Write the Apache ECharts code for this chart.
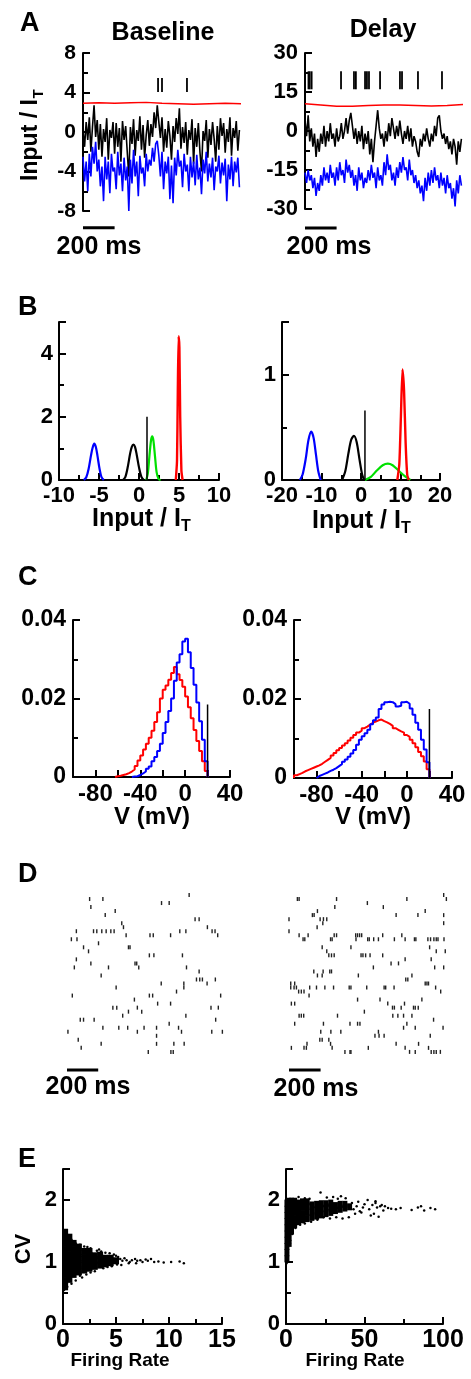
<!DOCTYPE html>
<html><head><meta charset="utf-8">
<script src="https://cdn.jsdelivr.net/npm/echarts/dist/echarts.min.js"></script>
<style>html,body{margin:0;padding:0;background:#fff}#c{width:471px;height:1379px}</style>
</head><body><div id="c"></div>
<script>
const FONT = '"Liberation Sans", Arial, sans-serif';

// ---------- Panel A: input traces (sampled every 10 ms) ----------
const aStepMs = 10;
const aLeftBlack = [0.2,-1.5,1.0,-0.8,1.5,-2.0,0.5,2.7,-0.5,1.2,
-1.8,0.8,-2.5,0.3,-1.0,1.4,-2.8,0.2,-0.6,1.0,
-2.2,0.9,-1.5,0.4,-3.0,1.1,-0.8,0.6,-2.0,-4.5,
0.5,-1.2,1.3,-2.4,0.2,-0.9,1.6,-1.8,0.7,-2.6,
-0.3,1.2,-1.4,0.8,-0.5,2.0,0.4,2.7,1.0,-0.6,
1.5,-2.0,0.3,-1.6,1.1,-0.4,-2.8,0.6,-1.0,1.4,
-0.2,2.4,-1.7,0.5,-1.1,1.0,-2.3,0.2,-0.8,1.3,
-3.2,0.4,-1.5,0.9,-2.0,-4.0,0.1,-0.9,1.2,-2.6,
0.3,-1.3,1.0,-0.7,-3.0,0.6,-1.8,1.4,-0.4,0.9,
-2.1,0.3,-1.0,1.5,-2.4,0.4,-0.6,1.1,-1.9,0.2];
const aLeftBlue = [-2.5,-5.0,-3.0,-6.0,-2.2,-4.5,-1.5,-3.2,-1.0,-4.0,
-2.8,-5.5,-3.5,-7.0,-2.5,-4.8,-3.0,-6.2,-2.2,-4.0,
-3.6,-5.8,-2.0,-4.4,-3.2,-6.0,-2.6,-4.9,-3.5,-8.0,
-2.8,-5.2,-1.8,-4.5,-3.0,-6.5,-2.4,-4.2,-3.6,-5.5,
-2.2,-4.0,-2.8,-3.4,-1.6,-3.0,-1.2,-0.9,-2.4,-4.5,
-2.0,-5.8,-3.0,-4.2,-2.5,-6.8,-3.4,-7.2,-2.6,-4.4,
-1.8,-3.5,-2.9,-5.6,-2.2,-4.0,-3.3,-6.0,-2.5,-4.6,
-3.0,-5.4,-2.3,-4.8,-3.6,-6.3,-2.8,-4.2,-2.0,-5.0,
-3.2,-4.6,-2.6,-5.9,-3.5,-4.0,-2.4,-5.2,-3.1,-4.4,
-2.7,-7.0,-3.3,-4.8,-2.5,-5.5,-3.0,-4.1,-2.6,-5.6];
const aRedTimes = [0,100,200,300,400,500,600,700,800,900,1000];
const aLeftRed = [2.9,2.95,2.9,2.95,3.0,2.9,2.85,2.8,2.85,2.9,2.85];
const aLeftSpikes = [475,500,658];
const aRightBlack = [4,-2,6,-4,1,-6,-1,-10,-3,-8,
-1,-5,2,-6,0,-4,3,-3,-1,-6,
1,-4,-2,3,-3,0,5,-1,4,7,
2,-3,1,-5,0,-4,2,-7,-1,-5,
0,-9,-3,-12,-4,2,8,1,-3,-1,
-6,0,-4,3,-2,5,1,-3,2,-2,
4,-1,-5,0,-3,2,-4,1,-6,-2,
-4,-8,-10,-3,-6,-1,-4,1,-3,-6,
-1,-4,2,-2,5,6,0,-3,-1,-5,
-2,-7,-4,-9,-3,-6,-13,-4,-8,-3];
const aRightBlue = [-16,-20,-15,-19,-17,-22,-18,-25,-20,-23,
-17,-21,-14,-19,-16,-20,-13,-18,-16,-21,
-14,-19,-12,-17,-15,-20,-11,-16,-13,-18,
-15,-21,-17,-23,-14,-19,-16,-22,-18,-20,
-15,-19,-13,-18,-16,-22,-14,-19,-17,-21,
-12,-17,-9,-15,-13,-19,-16,-21,-14,-18,
-12,-16,-10,-15,-14,-19,-11,-17,-15,-20,
-17,-22,-19,-24,-21,-27,-18,-23,-16,-21,
-15,-20,-14,-19,-17,-22,-16,-21,-18,-24,
-17,-22,-20,-26,-22,-29,-19,-24,-17,-21];
const aRightRed = [10.5,10,9.5,9.5,9.8,10,10,9.8,9.6,9.8,10.2];
const aRightSpikes = [22,30,42,228,310,322,380,392,405,475,601,614,715,867];
const aLeftSpikeLevel = 4.75, aRightSpikeLevel = 19.5;
const scaleBarMs = 200;

// ---------- Panel B: input distributions ----------
const bLeftBlue  = [[-6.9,0],[-6.6,0.08],[-6.3,0.35],[-6.0,0.78],[-5.8,1.02],[-5.6,1.15],[-5.4,1.05],[-5.2,0.78],[-4.95,0.38],[-4.7,0.1],[-4.4,0]];
const bLeftBlack = [[-2.0,0],[-1.7,0.1],[-1.4,0.42],[-1.1,0.85],[-0.9,1.05],[-0.7,1.12],[-0.5,1.05],[-0.3,0.82],[0,0.4],[0.3,0.1],[0.6,0]];
const bLeftGreen = [[0.9,0],[1.1,0.2],[1.3,0.75],[1.5,1.25],[1.65,1.38],[1.8,1.25],[2.0,0.75],[2.2,0.25],[2.45,0.03],[2.7,0]];
const bLeftRed   = [[4.6,0],[4.75,0.6],[4.85,2.8],[4.95,4.55],[5.05,4.2],[5.15,2.0],[5.3,0.3],[5.45,0]];
const bLeftThresh = [[1,0],[1,2.0]];
const bRightBlue  = [[-15.5,0],[-14.8,0.05],[-14.0,0.2],[-13.3,0.38],[-12.6,0.46],[-12.0,0.4],[-11.4,0.24],[-10.8,0.08],[-10.2,0]];
const bRightBlack = [[-4.8,0],[-4.0,0.08],[-3.2,0.25],[-2.5,0.38],[-1.8,0.42],[-1.1,0.36],[-0.4,0.2],[0.3,0.05],[0.8,0]];
const bRightGreen = [[1,0],[2.5,0.03],[4,0.09],[5.5,0.14],[6.8,0.155],[8,0.14],[9.5,0.09],[11,0.04],[12.5,0]];
const bRightRed   = [[9.2,0],[9.7,0.15],[10.1,0.6],[10.5,1.05],[10.9,0.85],[11.3,0.35],[11.7,0.05],[12.1,0]];
const bRightThresh = [[1,0],[1,0.66]];

// ---------- Panel C: voltage histograms (2.5 mV bins) ----------
const cBin = 2.5;
const cLeftRedStart = -62.5;
const cLeftRed = [0.0002,0.0003,0.0005,0.0007,0.0010,0.0014,0.0019,0.0028,0.0042,0.0055,0.0070,0.0085,0.0100,0.0118,0.0140,0.0165,0.0200,0.0222,0.0233,0.0248,0.0265,0.0280,0.0262,0.0247,0.0230,0.0205,0.0178,0.0150,0.0120,0.0092,0.0066,0.0040,0.0015];
const cLeftBlueStart = -47.5;
const cLeftBlue = [0.0001,0.0002,0.0005,0.0009,0.0014,0.0021,0.0027,0.0040,0.0051,0.0066,0.0085,0.0112,0.0140,0.0168,0.0200,0.0245,0.0292,0.0313,0.0345,0.0352,0.0318,0.0278,0.0235,0.0190,0.0142,0.0095,0.0040];
const cRightRedStart = -100;
const cRightRed = [0.0007,0.0010,0.0013,0.0017,0.0020,0.0023,0.0026,0.0029,0.0032,0.0036,0.0041,0.0046,0.0051,0.0057,0.0063,0.0070,0.0076,0.0082,0.0088,0.0095,0.0102,0.0109,0.0115,0.0120,0.0126,0.0130,0.0135,0.0140,0.0143,0.0146,0.0148,0.0144,0.0141,0.0137,0.0132,0.0126,0.0122,0.0118,0.0115,0.0109,0.0104,0.0097,0.0088,0.0078,0.0066,0.0055,0.0042,0.0022];
const cRightBlueStart = -80;
const cRightBlue = [0.0005,0.0008,0.0011,0.0014,0.0018,0.0021,0.0025,0.0030,0.0035,0.0041,0.0047,0.0054,0.0062,0.0071,0.0084,0.0097,0.0106,0.0113,0.0122,0.0136,0.0146,0.0153,0.0175,0.0186,0.0192,0.0193,0.0192,0.0187,0.0181,0.0183,0.0192,0.0193,0.0188,0.0176,0.0160,0.0140,0.0122,0.0097,0.0072,0.0040];
const cLeftThresh = [[20,0],[20,0.0185]];
const cRightThresh = [[20,0],[20,0.0175]];

// ---------- Panel D: rasters [time ms, neuron row] ----------
const dLeft = [[783,0],[145,1],[230,1],[606,2],[655,2],[153,3],[309,4],[245,5],[821,6],[847,6],[351,7],[362,8],[60,9],[170,9],[191,9],[223,9],[251,9],[281,9],[302,9],[723,9],[762,9],[900,8],[930,9],[949,9],[966,10],[532,10],[553,10],[664,10],[379,10],[28,11],[64,11],[202,12],[106,13],[394,13],[404,13],[138,14],[528,15],[557,15],[740,15],[60,16],[153,17],[436,17],[447,17],[460,18],[47,18],[266,18],[766,18],[847,19],[219,20],[830,21],[851,21],[868,21],[898,22],[951,21],[749,22],[749,23],[604,22],[315,23],[702,24],[549,25],[528,25],[34,25],[985,25],[432,26],[581,27],[664,27],[294,28],[319,28],[394,29],[451,28],[479,29],[923,28],[970,28],[357,30],[762,30],[85,31],[106,31],[174,31],[953,31],[655,32],[230,33],[332,33],[389,33],[494,33],[715,33],[574,33],[451,34],[734,34],[928,34],[996,34],[6,34],[574,35],[72,36],[219,37],[574,37],[685,37],[751,37],[91,38],[521,39],[666,39],[681,39]];
const dRight = [[53,1],[64,1],[301,1],[746,1],[979,0],[996,1],[496,2],[290,3],[597,3],[0,6],[148,5],[159,5],[180,4],[197,6],[218,6],[239,6],[678,5],[816,5],[862,4],[979,5],[979,7],[178,8],[214,7],[0,9],[64,10],[121,10],[286,10],[301,10],[422,10],[434,10],[447,10],[460,10],[593,10],[714,10],[89,11],[100,11],[263,11],[273,11],[424,11],[498,11],[508,11],[536,11],[566,11],[667,11],[735,11],[794,11],[803,11],[879,11],[896,11],[917,11],[932,11],[943,11],[981,11],[210,13],[392,13],[890,13],[932,14],[989,14],[239,14],[252,15],[269,15],[286,15],[456,15],[468,15],[485,15],[513,15],[593,15],[534,18],[646,17],[693,17],[735,16],[900,16],[922,18],[979,18],[157,19],[180,20],[210,20],[216,19],[258,19],[269,19],[439,20],[739,21],[752,21],[778,20],[11,22],[36,22],[11,23],[32,23],[47,23],[61,24],[78,24],[95,24],[131,23],[127,25],[174,23],[227,23],[282,23],[381,23],[392,23],[492,23],[602,23],[612,23],[665,23],[862,22],[873,22],[883,22],[928,23],[960,24],[434,26],[576,26],[15,27],[36,27],[625,27],[655,28],[667,28],[710,28],[731,27],[788,28],[799,28],[818,28],[841,26],[64,30],[78,30],[93,30],[307,30],[477,29],[657,30],[689,30],[725,30],[778,30],[915,31],[36,32],[218,32],[386,32],[434,32],[449,32],[725,33],[746,32],[799,33],[975,33],[201,34],[265,34],[328,34],[566,34],[544,35],[570,35],[602,35],[894,35],[195,36],[210,36],[252,36],[263,37],[114,37],[678,37],[820,37],[15,38],[95,38],[110,38],[273,38],[354,39],[386,39],[392,39],[502,38],[735,38],[763,39],[799,39],[883,38],[900,39],[917,39],[932,39],[958,39]];
const dScaleRow = 43.5;

// ---------- Panel E: CV vs firing rate ----------
const eLeftCore = [[0.2,0.6],[0.2,0.7],[0.2,0.8],[0.2,0.9],[0.2,1.0],[0.2,1.1],[0.2,1.2],[0.2,1.3],[0.2,1.4],[0.2,1.48],
[0.6,0.72],[0.6,0.82],[0.6,0.92],[0.6,1.02],[0.6,1.12],[0.6,1.22],[0.6,1.32],[0.6,1.4],
[1.0,0.8],[1.0,0.9],[1.0,1.0],[1.0,1.1],[1.0,1.2],[1.0,1.3],
[1.5,0.84],[1.5,0.94],[1.5,1.04],[1.5,1.14],[1.5,1.24],
[2.0,0.87],[2.0,0.97],[2.0,1.07],[2.0,1.17],
[2.5,0.9],[2.5,1.0],[2.5,1.1],[2.5,1.17],
[3.0,0.93],[3.0,1.02],[3.0,1.1],
[3.5,0.95],[3.5,1.04],[3.5,1.11],
[4.0,0.97],[4.0,1.06],[4.5,0.99],[4.5,1.06],[5.0,1.02]];
const eLeftSparse = [[0.1,0.55],[0.05,1.5],[0.3,1.48],[0.5,1.42],[0.8,1.35],[1.2,1.3],[1.6,1.28],[2.0,1.25],[2.3,1.24],[2.6,1.22],[3.2,1.18],[3.6,1.17],[4.0,1.15],[4.4,1.14],[4.8,1.12],[5.0,1.1],[5.2,1.08],[5.4,1.05],[5.6,1.02],[5.8,1.06],[6.0,1.03],[6.2,0.98],[6.5,1.03],[6.8,1.05],[7.0,1.02],[7.3,1.03],[7.5,1.0],[7.8,1.04],[8.0,1.02],[8.3,1.05],[8.6,1.0],[9.0,1.01],[9.5,0.99],[10.2,1.0],[11.0,1.01],[11.4,0.98],[4.2,0.92],[3.8,0.9],[3.0,0.85],[2.6,0.83],[2.2,0.8],[1.6,0.78],[1.2,0.7],[0.8,0.65],[5.1,0.96],[5.5,0.95],[4.6,0.93],[2.8,1.0],[1.8,0.75],[6.3,1.0],[6.9,0.98],[3.4,1.2],[0.4,0.6]];
const eRightCore = [[0.6,1.05],[0.6,1.15],[0.6,1.25],[0.6,1.35],[0.6,1.45],[0.6,1.55],[0.6,1.65],[0.6,1.75],[0.6,1.85],[0.6,1.95],
[2,1.3],[2,1.4],[2,1.5],[2,1.6],[2,1.7],[2,1.8],[2,1.9],[2,1.98],
[3.5,1.5],[3.5,1.6],[3.5,1.7],[3.5,1.8],[3.5,1.9],[3.5,1.98],
[5.5,1.6],[5.5,1.7],[5.5,1.8],[5.5,1.9],[5.5,1.98],
[8,1.65],[8,1.75],[8,1.85],[8,1.95],
[10.5,1.68],[10.5,1.78],[10.5,1.88],[10.5,1.97],
[13.5,1.7],[13.5,1.8],[13.5,1.9],[13.5,1.97],
[16.5,1.72],[16.5,1.82],[16.5,1.92],
[19.5,1.74],[19.5,1.84],[19.5,1.93],
[22.5,1.76],[22.5,1.86],[22.5,1.94],
[25.5,1.78],[25.5,1.87],[25.5,1.94],
[28.5,1.8],[28.5,1.89],[28.5,1.95],
[31.5,1.83],[31.5,1.91],[34.5,1.85],[34.5,1.93],[37.5,1.87],[37.5,1.93],[40.5,1.89]];
const eRightSparse = [[0.2,1.0],[0.3,0.98],[8,2.05],[12,2.03],[15,2.02],[22,2.12],[26,2.04],[30,2.05],[33,2.02],[35,2.06],[38,2.03],[42,1.95],[43,1.85],[45,1.9],[46,1.97],[48,1.8],[49,1.88],[50,1.93],[52,2.0],[53,1.85],[55,1.92],[56,1.78],[57,1.98],[58,1.88],[60,1.9],[62,1.83],[65,1.87],[67,1.86],[70,1.85],[73,1.87],[80,1.84],[84,1.88],[86,1.9],[88,1.83],[92,1.87],[95,1.85],[40,1.72],[36,1.7],[32,1.72],[28,1.7],[24,1.72],[20,1.68],[16,1.65],[12,1.62],[9,1.6],[6,1.55],[4,1.45],[2.5,1.3],[1.2,1.15],[44,1.78],[47,1.82],[54,1.75],[59,1.73],[61,1.92],[63,1.9],[57,1.95]];

// ---------- helpers ----------
const trace = (arr, step) => arr.map((v, i) => [i * step, v]);
const pairs = (xs, ys) => xs.map((x, i) => [x, ys[i]]);
function hist(start, bin, vals) {
  const d = [[start, 0]];
  vals.forEach((v, i) => d.push([start + i * bin, v]));
  d.push([start + vals.length * bin, 0]);
  return d;
}
function axis(gi, min, max, interval, fs, margin, minor, fmt) {
  return {
    type: 'value', gridIndex: gi, min, max, interval,
    axisLine: {show: true, onZero: false, lineStyle: {color: '#000', width: 2}},
    axisTick: {show: true, inside: true, length: 7, lineStyle: {color: '#000', width: 2}},
    minorTick: {show: !!minor, splitNumber: minor || 5, length: 5, lineStyle: {color: '#000', width: 2}},
    splitLine: {show: false}, minorSplitLine: {show: false},
    axisLabel: {color: '#000', fontFamily: FONT, fontWeight: 'bold', fontSize: fs, margin,
      showMinLabel: true, showMaxLabel: true, hideOverlap: false, formatter: fmt || (v => String(v))}
  };
}
const hidden = (gi, min, max, inverse) => ({type: 'value', gridIndex: gi, min, max, inverse: !!inverse, show: false, splitLine: {show: false}});
const ln = (gi, data, color, width, extra) => Object.assign({type: 'line', xAxisIndex: gi, yAxisIndex: gi, data, showSymbol: false, symbol: 'none',
  lineStyle: {color, width}, itemStyle: {color}, animation: false, silent: true}, extra || {});
const sc = (gi, data, color, size, symbol) => ({type: 'scatter', xAxisIndex: gi, yAxisIndex: gi, data, symbol: symbol || 'circle',
  symbolSize: size, itemStyle: {color, opacity: 1}, animation: false, silent: true, large: false});

const grids = [
  {left: 83, top: 53, width: 158, height: 158},   // A left
  {left: 305, top: 53, width: 158, height: 156},  // A right
  {left: 59, top: 322, width: 160, height: 158},  // B left
  {left: 282, top: 322, width: 158, height: 158}, // B right
  {left: 73, top: 620, width: 157, height: 157},  // C left
  {left: 294, top: 620, width: 158, height: 158}, // C right
  {left: 67, top: 893, width: 156, height: 179},  // D left
  {left: 289, top: 893, width: 158, height: 179}, // D right
  {left: 63, top: 1169, width: 159, height: 155}, // E left
  {left: 286, top: 1169, width: 157, height: 155} // E right
];

const intOnly = v => (Math.abs(v - Math.round(v)) < 1e-9 ? String(v) : '');
const xAxes = [
  hidden(0, 0, 1000), hidden(1, 0, 1000),
  axis(2, -10, 10, 5, 22, 5, 2),
  axis(3, -20, 20, 10, 22, 5, 2),
  axis(4, -100, 40, 20, 24, 5, 0, v => (v % 40 === 0 ? String(v) : '')),
  axis(5, -100, 40, 20, 24, 5, 0, v => (v % 40 === 0 ? String(v) : '')),
  hidden(6, 0, 1000), hidden(7, 0, 1000),
  axis(8, 0, 15, 5, 25, 4, 2),
  axis(9, 0, 100, 50, 25, 4, 2)
];
const yAxes = [
  axis(0, -8, 8, 4, 21, 7, 2),
  axis(1, -30, 30, 15, 22, 7, 2),
  axis(2, 0, 5, 2, 22, 6, 2, v => (v % 2 === 0 ? String(v) : '')),
  axis(3, 0, 1.5, 1, 22, 6, 2, intOnly),
  axis(4, 0, 0.04, 0.02, 23, 7, 2),
  axis(5, 0, 0.04, 0.02, 23, 7, 2),
  hidden(6, -0.5, 44, true), hidden(7, -0.5, 44, true),
  axis(8, 0, 2.5, 1, 22, 6, 2, intOnly),
  axis(9, 0, 2.5, 1, 22, 6, 2, intOnly)
];

const BLUE = '#0000ff', RED = '#ff0000', GREEN = '#00e000', BLACK = '#000';
const series = [
  // A left
  ln(0, trace(aLeftBlack, aStepMs), BLACK, 1.6),
  ln(0, trace(aLeftBlue, aStepMs), BLUE, 1.6),
  ln(0, pairs(aRedTimes, aLeftRed), RED, 1.5),
  sc(0, aLeftSpikes.map(t => [t, aLeftSpikeLevel]), BLACK, [1.8, 14], 'rect'),
  ln(0, [[0, -9.7], [scaleBarMs, -9.7]], BLACK, 3, {clip: false}),
  // A right
  ln(1, trace(aRightBlack, aStepMs), BLACK, 1.6),
  ln(1, trace(aRightBlue, aStepMs), BLUE, 1.6),
  ln(1, pairs(aRedTimes, aRightRed), RED, 1.5),
  sc(1, aRightSpikes.map(t => [t, aRightSpikeLevel]), BLACK, [1.8, 18], 'rect'),
  ln(1, [[0, -37.3], [scaleBarMs, -37.3]], BLACK, 3, {clip: false}),
  // B left
  ln(2, bLeftBlue, BLUE, 2.2, {smooth: 0.3}),
  ln(2, bLeftBlack, BLACK, 2.2, {smooth: 0.3}),
  ln(2, bLeftGreen, GREEN, 2.2, {smooth: 0.3}),
  ln(2, bLeftRed, RED, 2.4, {smooth: 0.2}),
  ln(2, bLeftThresh, BLACK, 1.5),
  // B right
  ln(3, bRightBlue, BLUE, 2.2, {smooth: 0.3}),
  ln(3, bRightBlack, BLACK, 2.2, {smooth: 0.3}),
  ln(3, bRightGreen, GREEN, 2.2, {smooth: 0.3}),
  ln(3, bRightRed, RED, 2.4, {smooth: 0.2}),
  ln(3, bRightThresh, BLACK, 1.5),
  // C left
  ln(4, hist(cLeftRedStart, cBin, cLeftRed), RED, 2, {step: 'end'}),
  ln(4, hist(cLeftBlueStart, cBin, cLeftBlue), BLUE, 2, {step: 'end'}),
  ln(4, cLeftThresh, BLACK, 1.5),
  // C right
  ln(5, hist(cRightRedStart, cBin, cRightRed), RED, 2, {step: 'end'}),
  ln(5, hist(cRightBlueStart, cBin, cRightBlue), BLUE, 2, {step: 'end'}),
  ln(5, cRightThresh, BLACK, 1.5),
  // D
  sc(6, dLeft, '#222', [1.4, 4], 'rect'),
  ln(6, [[0, dScaleRow], [scaleBarMs, dScaleRow]], BLACK, 3),
  sc(7, dRight, '#222', [1.4, 4], 'rect'),
  ln(7, [[0, dScaleRow], [scaleBarMs, dScaleRow]], BLACK, 3),
  // E
  sc(8, eLeftCore, BLACK, [6, 7], 'rect'),
  sc(8, eLeftSparse, BLACK, 2.5),
  sc(9, eRightCore, BLACK, [5, 7], 'rect'),
  sc(9, eRightSparse, BLACK, 2.5)
];

function txt(x, y, text, size, opt) {
  opt = opt || {};
  return {type: 'text', x, y, rotation: opt.rot || 0, silent: true, z: 100,
    style: {text, fill: '#000', fontFamily: FONT, fontWeight: 'bold', fontSize: size,
      align: opt.align || 'center', verticalAlign: 'middle', textAlign: opt.align || 'center', textVerticalAlign: 'middle'}};
}
const R = Math.PI / 2;
const graphics = [
  txt(20, 24, 'A', 27, {align: 'left'}),
  txt(163, 33, 'Baseline', 25),
  txt(383, 30, 'Delay', 25),
  txt(31, 140, 'Input / I', 23, {rot: R}),
  txt(39, 94, 'T', 15, {rot: R}),
  txt(99, 247, '200 ms', 25),
  txt(329, 247, '200 ms', 25),
  txt(18, 308, 'B', 27, {align: 'left'}),
  txt(92, 519, 'Input / I', 25, {align: 'left'}),
  txt(181, 527, 'T', 16, {align: 'left'}),
  txt(312, 521, 'Input / I', 25, {align: 'left'}),
  txt(401, 529, 'T', 16, {align: 'left'}),
  txt(18, 578, 'C', 27, {align: 'left'}),
  txt(152, 817, 'V (mV)', 24),
  txt(373, 817, 'V (mV)', 24),
  txt(18, 875, 'D', 27, {align: 'left'}),
  txt(88, 1087, '200 ms', 25),
  txt(316, 1089, '200 ms', 25),
  txt(18, 1160, 'E', 27, {align: 'left'}),
  txt(24, 1249, 'CV', 22, {rot: R}),
  txt(120, 1361, 'Firing Rate', 19),
  txt(355, 1361, 'Firing Rate', 19)
];

const chart = echarts.init(document.getElementById('c'), null, {renderer: 'canvas'});
chart.setOption({
  backgroundColor: '#fff',
  animation: false,
  grid: grids,
  xAxis: xAxes,
  yAxis: yAxes,
  series,
  graphic: graphics
});
</script></body></html>
